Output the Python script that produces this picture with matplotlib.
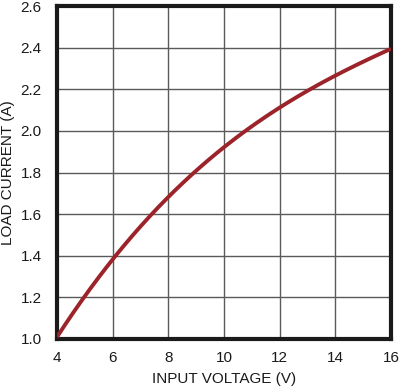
import matplotlib
matplotlib.use("Agg")
import matplotlib.pyplot as plt
import numpy as np

voltage = [4, 5, 6, 7, 8, 9, 10, 11, 12, 13, 14, 15, 16]
current = [1.0, 1.21, 1.40, 1.545, 1.67, 1.80, 1.92, 2.02, 2.115, 2.197, 2.27, 2.333, 2.39]
xticks = [4, 6, 8, 10, 12, 14, 16]
yticks = [1.0, 1.2, 1.4, 1.6, 1.8, 2.0, 2.2, 2.4, 2.6]

plt.rcParams['font.family'] = ['Liberation Sans', 'DejaVu Sans']

fig = plt.figure(figsize=(4.0, 3.91), dpi=100)
ax = fig.add_axes([57/400, 1 - 339/391, (391-57)/400, (339-6)/391])

xs = np.linspace(4, 16, 200)
coef = np.polyfit(voltage, current, 3)
ax.plot(xs, np.polyval(coef, xs), color='#9B2329', lw=2.8, solid_capstyle='butt', zorder=3)

ax.set_xlim(4, 16)
ax.set_ylim(1.0, 2.6)
ax.set_xticks(xticks)
ax.set_yticks(yticks)
ax.set_yticklabels([f"{v:.1f}" for v in yticks])
ax.grid(True, color='#5a5a5a', lw=1.0)
ax.set_axisbelow(True)
ax.tick_params(length=0, labelsize=11, pad=11, colors='#1a1a1a')
ax.tick_params(axis='x', pad=9)
for s in ax.spines.values():
    s.set_linewidth(3)
    s.set_color('#1a1a1a')
ax.set_xlabel('INPUT VOLTAGE (V)', fontsize=11, color='#1a1a1a', labelpad=5)
ax.set_ylabel('LOAD CURRENT (A)', fontsize=11, color='#1a1a1a')
ax.yaxis.set_label_coords(-0.125, 0.5)

fig.savefig('out.png', dpi=100)
